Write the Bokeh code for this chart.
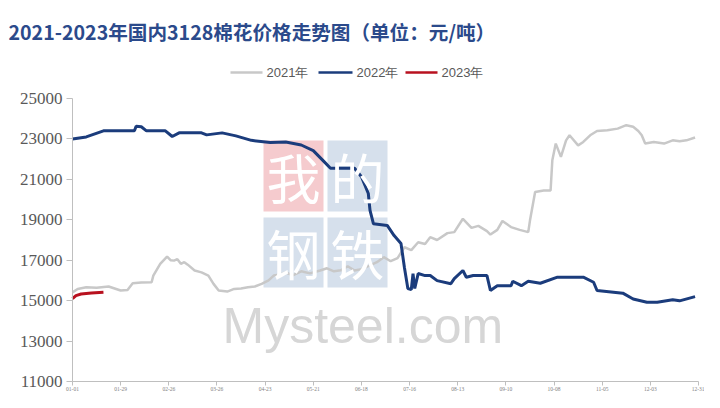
from bokeh.plotting import figure
from bokeh.models import Range1d, FixedTicker, Label
from bokeh.embed import file_html
from bokeh.resources import INLINE

# ---------------- data (day of year, price 元/吨) ----------------
days_2021 = [0, 3, 8, 14, 21, 28, 32, 35, 40, 46, 47, 51, 55, 57, 59, 61, 63, 65, 67, 71, 75, 79, 82, 85,
             90, 94, 98, 102, 106, 110, 114, 117, 121, 124, 128, 133, 138, 144, 148, 152, 156, 160, 164,
             168, 173, 177, 181, 185, 189, 193, 197, 201, 205, 208, 212, 218, 222, 227, 232, 236, 241, 243,
             247, 250, 255, 260, 265, 266, 269, 274, 278, 279, 281, 284, 287, 289, 294, 297, 301, 305, 311,
             317, 322, 326, 329, 331, 333, 338, 344, 349, 353, 357, 362]
price_2021 = [15410, 15580, 15660, 15640, 15700, 15500, 15530, 15860, 15900, 15910, 16240, 16820, 17180,
              17000, 16980, 17050, 16820, 16900, 16780, 16490, 16400, 16240, 15830, 15500, 15450, 15580,
              15600, 15660, 15700, 15830, 16000, 16240, 16300, 16400, 16250, 16450, 16350, 16490, 16600,
              16450, 16500, 16700, 16490, 16560, 16740, 16900, 17150, 16950, 17100, 17640, 17500, 17890,
              17800, 18140, 18000, 18340, 18390, 19050, 18600, 18700, 18440, 18270, 18500, 18940, 18640,
              18500, 18390, 18960, 20370, 20450, 20450, 21940, 22770, 22110, 22930, 23180, 22680, 22850,
              23180, 23390, 23430, 23510, 23680, 23600, 23390, 23180, 22770, 22850, 22770, 22930, 22880,
              22930, 23070]

days_2022 = [0, 8, 18, 36, 37, 40, 43, 54, 58, 62, 75, 78, 87, 95, 104, 115, 124, 133, 140, 146, 150,
             164, 168, 172, 173, 175, 183, 187, 191, 193, 195, 197, 198, 199, 201, 205, 208, 212, 220,
             222, 227, 229, 233, 241, 243, 247, 255, 256, 261, 265, 272, 282, 297, 303, 305, 320, 326,
             334, 340, 349, 353, 362]
price_2022 = [23000, 23100, 23400, 23400, 23630, 23600, 23400, 23400, 23120, 23300, 23300, 23200, 23300,
              23150, 22930, 22820, 22850, 22700, 22420, 21900, 21550, 21550, 21130, 20300, 19460, 18800,
              18720, 18220, 17830, 16640, 15600, 15550, 16340, 15600, 16340, 16240, 16240, 15990, 15840,
              16090, 16490, 16160, 16240, 16240, 15500, 15740, 15740, 15960, 15740, 15960, 15860, 16160,
              16160, 15910, 15500, 15370, 15080, 14920, 14920, 15040, 14990, 15200]

days_2023 = [0, 2, 5, 11, 18]
price_2023 = [15100, 15250, 15330, 15380, 15420]

series_names = ["2021年", "2022年", "2023年"]
y_ticks = [11000, 13000, 15000, 17000, 19000, 21000, 23000, 25000]
x_ticks = [0, 28, 56, 84, 112, 140, 168, 196, 224, 252, 280, 308, 336, 364]
x_tick_labels = ["01-01", "01-29", "02-26", "03-26", "04-23", "05-21", "06-18",
                 "07-16", "08-13", "09-10", "10-08", "11-05", "12-03", "12-31"]
title_text = "2021-2023年国内3128棉花价格走势图（单位：元/吨）"

# ---------------- layout helpers (pixels -> data) ----------------
W, H = 704, 392
AX_L, AX_R, AX_B = 72, 698, 381   # axis box in pixels
KX = (AX_R - AX_L) / 364.0        # px per day
KY = 283.0 / 14000.0              # px per 元
def dx(px):
    return (px - AX_L) / KX
def dy(py):
    return 11000 + (AX_B - py) / KY

p = figure(width=W, height=H, output_backend="svg", toolbar_location=None,
           x_range=Range1d(dx(0), dx(W)), y_range=Range1d(dy(H), dy(0)),
           min_border_left=0, min_border_right=0, min_border_top=0, min_border_bottom=0)
p.outline_line_color = None
p.xgrid.grid_line_color = None
p.ygrid.grid_line_color = None
p.background_fill_color = "white"

# ---------------- watermark ----------------
boxes = [(263, 323, 140, 211, "#f5cbce", "我"), (327, 387, 140, 211, "#d6e0ec", "的"),
         (263, 323, 217, 287, "#d6e0ec", "钢"), (327, 387, 217, 287, "#d6e0ec", "铁")]
for l, r, t, b, c, ch in boxes:
    p.quad(left=dx(l), right=dx(r), top=dy(t), bottom=dy(b), fill_color=c, line_color=None)
    p.add_layout(Label(x=dx((l + r) / 2), y=dy((t + b) / 2), text=ch, text_color="white",
                       text_font="Noto Sans CJK SC", text_font_size="54px",
                       text_align="center", text_baseline="middle"))
p.add_layout(Label(x=dx(222), y=dy(325), text="Mysteel.com", text_color="#d6d6d6",
                   text_font="Liberation Sans", text_font_size="50px",
                   text_align="left", text_baseline="alphabetic"))

# ---------------- series ----------------
p.line(days_2021, price_2021, line_color="#c8c8c8", line_width=2.5)
p.line(days_2022, price_2022, line_color="#1b3c7c", line_width=3)
p.line(days_2023, price_2023, line_color="#b8111f", line_width=3)

# ---------------- legend (manual) ----------------
leg = [(230, 262, "#c8c8c8", series_names[0]), (318, 352, "#1b3c7c", series_names[1]),
       (405, 437, "#b8111f", series_names[2])]
for x0, x1, c, name in leg:
    p.segment(x0=[dx(x0)], y0=[dy(72)], x1=[dx(x1)], y1=[dy(72)], line_color=c, line_width=2.5)
    p.add_layout(Label(x=dx(x1 + 4), y=dy(72), text=name, text_color="#595959",
                       text_font="Liberation Sans", text_font_size="13px",
                       text_align="left", text_baseline="middle"))

# ---------------- title ----------------
p.add_layout(Label(x=dx(8), y=dy(31), text=title_text, text_color="#2b4a8b",
                   text_font="Noto Sans CJK SC", text_font_size="19.6px", text_font_style="bold",
                   text_align="left", text_baseline="middle"))

# ---------------- axes ----------------
ax = p.yaxis[0]
ax.fixed_location = 0
ax.ticker = FixedTicker(ticks=y_ticks)
ax.bounds = (11000, 25000)
ax.axis_line_color = "#bfbfbf"
ax.major_tick_line_color = "#bfbfbf"
ax.minor_tick_line_color = None
ax.major_tick_out = 6
ax.major_tick_in = 0
ax.major_label_text_font = "Liberation Serif"
ax.major_label_text_font_size = "17px"
ax.major_label_text_color = "#595959"
ax.major_label_standoff = 4

bx = p.xaxis[0]
bx.fixed_location = 11000
bx.ticker = FixedTicker(ticks=x_ticks)
bx.bounds = (0, 364)
bx.major_label_overrides = {t: s for t, s in zip(x_ticks, x_tick_labels)}
bx.axis_line_color = "#bfbfbf"
bx.major_tick_line_color = "#bfbfbf"
bx.minor_tick_line_color = None
bx.major_tick_out = 4
bx.major_tick_in = 0
bx.major_label_text_font = "Liberation Serif"
bx.major_label_text_font_size = "5.5px"
bx.major_label_text_color = "#7f7f7f"
bx.major_label_standoff = 1

open("out.html", "w").write(file_html(p, INLINE))
